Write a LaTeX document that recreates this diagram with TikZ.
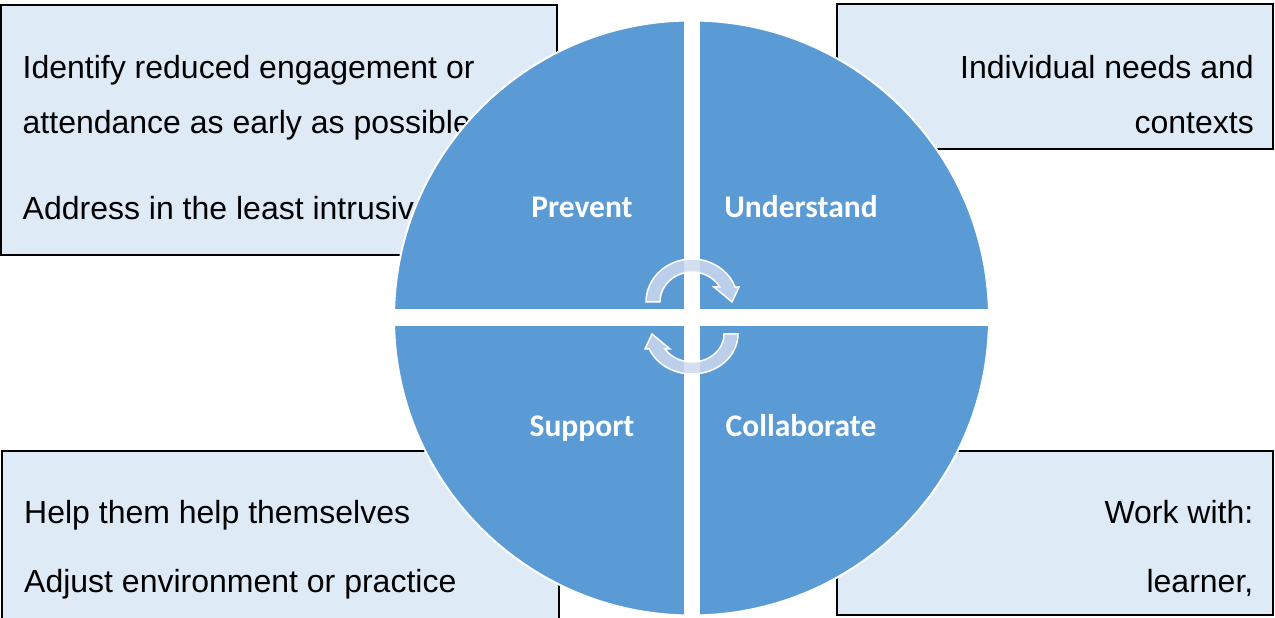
\documentclass[tikz,border=0pt]{standalone}
\usepackage{fontspec}
\setmainfont{Liberation Sans}
\newfontfamily\labelfont{Carlito}
\definecolor{wheelblue}{RGB}{91,155,213}
\definecolor{boxfill}{RGB}{222,235,247}
\definecolor{arrowfill}{RGB}{206,218,239}

\begin{document}
\begin{tikzpicture}[x=1pt,y=1pt,
  infobox/.style={draw=black, line width=2pt, fill=boxfill, inner sep=0pt, outer sep=0pt, anchor=north west},
  infotext/.style={inner sep=0pt, font=\fontsize{32}{38}\selectfont},
  quadlabel/.style={inner sep=0pt, text=white, anchor=base,
    font=\labelfont\bfseries\fontsize{31.5}{36}\selectfont},
  cyclearrow/.style={fill=arrowfill, fill opacity=0.84, draw=white, line width=1.5pt, line join=miter}
]
\clip (0,0) rectangle (1275,618);
\fill[white] (0,0) rectangle (1275,618);

% text boxes in the four corners
\node[infobox, minimum width=556pt, minimum height=250pt] (boxtl) at (1,613) {};
\node[infobox, minimum width=436pt, minimum height=144.5pt] (boxtr) at (837,613.5) {};
\node[infobox, minimum width=557pt, minimum height=200pt] (boxbl) at (2,167) {};
\node[infobox, minimum width=436pt, minimum height=164pt] (boxbr) at (837,167) {};

% box texts
\node[infotext, anchor=base west] (tl1) at (22.5,539) {Identify reduced engagement or};
\node[infotext, anchor=base west] (tl2) at (22.5,484) {attendance as early as possible};
\node[infotext, anchor=base west] (tl3) at (22.5,398) {Address in the least intrusive};
\node[infotext, anchor=base east] (tr1) at (1254,539) {Individual needs and};
\node[infotext, anchor=base east] (tr2) at (1254,484) {contexts};
\node[infotext, anchor=base west] (bl1) at (24,94) {Help them help themselves};
\node[infotext, anchor=base west] (bl2) at (24,25) {Adjust environment or practice};
\node[infotext, anchor=base east] (br1) at (1253.5,94) {Work with:};
\node[infotext, anchor=base east] (br2) at (1253.5,25) {learner,};

% the wheel, split into quadrants by white strips
\node[circle, fill=wheelblue, draw=white, line width=2pt, minimum size=595pt, inner sep=0pt] (wheel) at (691.5,300) {};
\fill[white] (683.5,0) rectangle (699.5,600);
\fill[white] (392,292) rectangle (992,308.5);

% quadrant labels
\node[quadlabel] (prevent) at (582,400) {Prevent};
\node[quadlabel] (understand) at (801,400) {Understand};
\node[quadlabel] (support) at (582,181) {Support};
\node[quadlabel] (collaborate) at (801,181) {Collaborate};

% circular arrows at the centre
\path[cyclearrow] (646,316) arc[start angle=180, end angle=20.4, x radius=46, y radius=43]
  -- (739,331) -- (732,316) -- (714,331) -- (719.7,331)
  arc[start angle=30, end angle=180, x radius=32, y radius=30] -- cycle;
\path[cyclearrow] (738,284) arc[start angle=0, end angle=-157.98, x radius=46, y radius=40]
  -- (645,269) -- (652,284) -- (670,269) -- (665,269)
  arc[start angle=-147.61, end angle=0, x radius=32, y radius=28] -- cycle;
\end{tikzpicture}
\end{document}
